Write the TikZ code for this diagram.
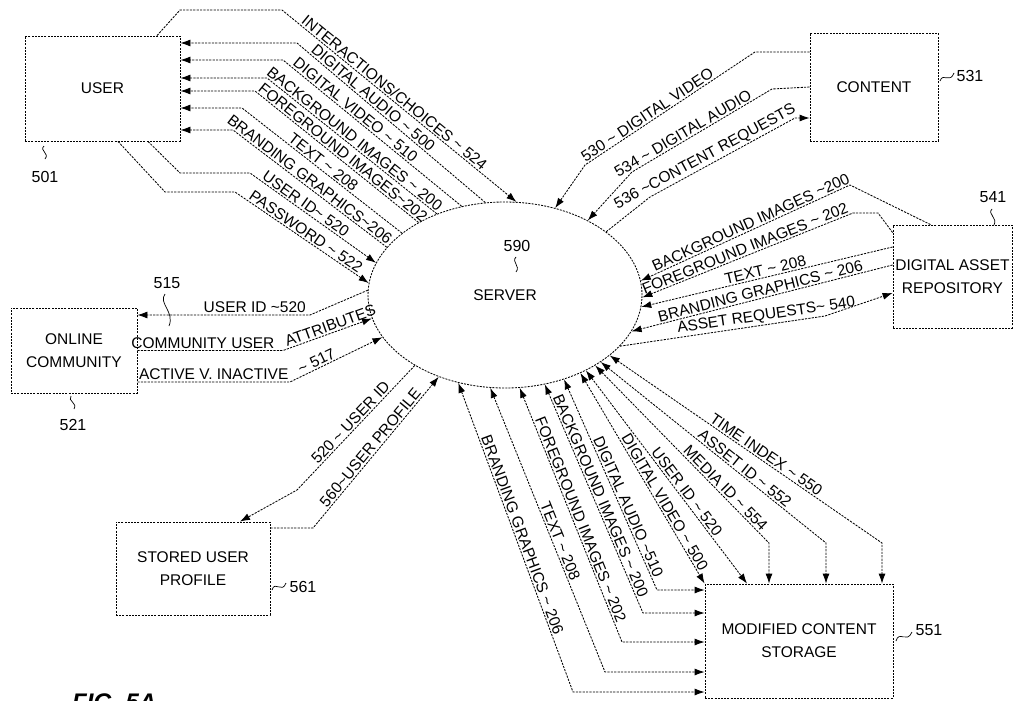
\documentclass[tikz,border=0pt]{standalone}
\usepackage{fontspec}
\setmainfont{Liberation Sans}
\usetikzlibrary{arrows.meta,shapes.geometric}
\newcommand{\sq}{\textasciitilde}

\begin{document}
\begin{tikzpicture}[x=1pt,y=-1pt,>={Latex[length=10pt,width=7pt]},
  box/.style={draw,line width=0.85pt,dash pattern=on 2pt off 1.2pt,align=center,inner sep=0pt,font=\fontsize{15.5}{23}\selectfont},
  flow/.style={line width=0.85pt,dash pattern=on 2.2pt off 1.2pt},
  lab/.style={sloped,above,inner sep=1.5pt,font=\fontsize{15.5}{18}\selectfont},
  refnum/.style={inner sep=0pt,font=\fontsize{16}{18}\selectfont},
  leader/.style={line width=0.7pt}]
  \useasboundingbox (0,0) rectangle (1015,701);

  % boxes and server
  \node[box,minimum width=155pt,minimum height=105pt] (user) at (102.5,88.5) {USER};
  \node[box,minimum width=128pt,minimum height=108pt] (content) at (874,87) {CONTENT};
  \node[box,minimum width=119pt,minimum height=103pt] (dar) at (952.5,276.5) {DIGITAL ASSET\\REPOSITORY};
  \node[box,minimum width=126pt,minimum height=85pt] (oc) at (74,350.5) {ONLINE\\COMMUNITY};
  \node[box,minimum width=154pt,minimum height=93pt] (sup) at (193,568.5) {STORED USER\\PROFILE};
  \node[box,minimum width=188pt,minimum height=114pt] (mcs) at (799,641) {MODIFIED CONTENT\\STORAGE};
  \node[box,ellipse,minimum width=274pt,minimum height=186pt] (server) at (505,295) {SERVER};

  % reference numbers
  \node[refnum] (n501) at (45,177) {501};
  \draw[leader] (44,146) .. controls (39,151) and (50,153) .. (45,159);
  \node[refnum] (n590) at (517,246) {590};
  \draw[leader] (516,257) .. controls (511,262) and (521,266) .. (516,272);
  \node[refnum] (n531) at (970,76) {531};
  \draw[leader] (940,81) .. controls (943,72) and (950,84) .. (954,73);
  \node[refnum] (n541) at (993,197) {541};
  \draw[leader] (992,209) .. controls (987,214) and (998,218) .. (994,225);
  \node[refnum] (n515) at (167,283) {515};
  \draw[leader] (165,294) .. controls (158,303) and (175,312) .. (169,326);
  \node[refnum] (n521) at (73,425) {521};
  \draw[leader] (71,396) .. controls (67,401) and (78,403) .. (74,409);
  \node[refnum] (n561) at (303,587) {561};
  \draw[leader] (272,590) .. controls (275,580) and (282,594) .. (286,583);
  \node[refnum] (n551) at (929,630) {551};
  \draw[leader] (896,641) .. controls (899,630) and (907,644) .. (912,632);

  % user <-> server
  \draw[flow,->] ([xshift=54.5pt]user.north) -- (180,10) -- (282,10) -- node[lab,pos=0.46]{INTERACTIONS/CHOICES \sq{} 524} (server.83);
  \draw[flow,->] (server.102) -- node[lab,pos=0.62]{DIGITAL AUDIO \sq{} 500} (297,43) -- ([yshift=45.5pt]user.east);
  \draw[flow,->] (server.116) -- node[lab,pos=0.62]{DIGITAL VIDEO \sq{} 510} (283,60) -- ([yshift=28.5pt]user.east);
  \draw[flow,->] (server.130) -- node[lab,pos=0.51]{BACKGROUND IMAGES \sq{} 200} (267,78) -- ([yshift=10.5pt]user.east);
  \draw[flow,->] (server.140) -- node[lab,pos=0.49]{FOREGROUND IMAGES\sq{}202} (255,91) -- ([yshift=-2.5pt]user.east);
  \draw[flow,->] (server.149) -- node[lab,pos=0.52]{TEXT \sq{} 208} (242,108) -- ([yshift=-19.5pt]user.east);
  \draw[flow,->] (server.158) -- node[lab,pos=0.53]{BRANDING GRAPHICS\sq{}206} (233,130) -- ([yshift=-41.5pt]user.east);
  \draw[flow,->] ([xshift=45.5pt]user.south) -- (180,173) -- (250,173) -- node[lab,pos=0.41]{USER ID\sq{} 520} (server.166);
  \draw[flow,->] ([xshift=15.5pt]user.south) -- (165,192) -- (235,192) -- node[lab,pos=0.5]{PASSWORD \sq{} 522} (server.175);

  % content <-> server
  \draw[flow,->] ([yshift=35pt]content.west) -- (755,52) -- node[lab,pos=0.61]{530 \sq{} DIGITAL VIDEO} (585,165) -- (server.60);
  \draw[flow,->] (content.west) -- (772,89) -- node[lab,pos=0.61]{534 \sq{} DIGITAL AUDIO} (632,172) -- (server.42);
  \draw[flow,->] (server.32) -- (650,197) -- node[lab,pos=0.41]{536 \sq{}CONTENT REQUESTS} (795,118) -- ([yshift=-31pt]content.west);

  % digital asset repository <-> server
  \draw[flow,->] ([xshift=-22pt]dar.north) -- (850,185) -- node[lab,pos=0.46]{BACKGROUND IMAGES \sq{}200} (server.6);
  \draw[flow,->] ([yshift=44pt]dar.west) -- (878,213) -- (853,213) -- node[lab,pos=0.5]{FOREGROUND IMAGES \sq{} 202} (server.-1);
  \draw[flow,->] ([yshift=29.5pt]dar.west) -- node[lab]{TEXT \sq{} 208} (server.-5);
  \draw[flow,->] ([yshift=11.5pt]dar.west) -- node[lab]{BRANDING GRAPHICS \sq{} 206} (server.-16);
  \draw[flow,->] (server.-24) -- node[lab,pos=0.72]{ASSET REQUESTS\sq{} 540} (825,316) -- ([yshift=-16.5pt]dar.west);

  % online community <-> server
  \draw[flow,->] (server.178) -- (310,315) -- node[lab,pos=0.32]{USER ID \sq{}520} ([yshift=35.5pt]oc.east);
  \draw[flow,->] (oc.east) -- node[lab,pos=0.45]{COMMUNITY USER} (283,350.5) -- node[lab,pos=0.56]{ATTRIBUTES} (server.-170);
  \draw[flow,->] ([yshift=-31.5pt]oc.east) -- node[lab]{ACTIVE V. INACTIVE} (290,382) -- node[lab,pos=0.32]{\sq{} 517} (server.-161);

  % stored user profile <-> server
  \draw[flow,->] (server.-142) -- node[lab]{520 \sq{} USER ID} (297,490) -- ([xshift=47pt]sup.north);
  \draw[flow,->] ([yshift=40.5pt]sup.east) -- (313,528) -- node[lab]{560\sq{}USER PROFILE} (server.-129);

  % modified content storage <-> server
  \draw[flow,<->] (server.-118) -- node[lab]{BRANDING GRAPHICS \sq{} 206} (573,692) -- ([yshift=-51pt]mcs.west);
  \draw[flow,<->] (server.-99) -- node[lab,pos=0.55]{TEXT \sq{} 208} (605,672) -- ([yshift=-31pt]mcs.west);
  \draw[flow,<->] (server.-81) -- node[lab,pos=0.53]{FOREGROUND IMAGES \sq{} 202} (622,642) -- ([yshift=-1pt]mcs.west);
  \draw[flow,<->] (server.-66) -- node[lab]{BACKGROUND IMAGES \sq{} 200} (643,613) -- ([yshift=28pt]mcs.west);
  \draw[flow,<->] (server.-55) -- node[lab,pos=0.62]{DIGITAL AUDIO \sq{}510} (657,590) -- ([yshift=51pt]mcs.west);
  \draw[flow,<->] (server.-46) -- node[lab,pos=0.63]{DIGITAL VIDEO \sq{} 500} (mcs.north west);
  \draw[flow,<->] (server.-43) -- node[lab,pos=0.59]{USER ID \sq{} 520} ([xshift=-52pt]mcs.north);
  \draw[flow,<->] (server.-38) -- node[lab,pos=0.72]{MEDIA ID \sq{} 554} (769,543) -- ([xshift=-30pt]mcs.north);
  \draw[flow,<->] (server.-35) -- node[lab,pos=0.62]{ASSET ID \sq{} 552} (826,543) -- ([xshift=27pt]mcs.north);
  \draw[flow,<->] (server.-30) -- node[lab,pos=0.56]{TIME INDEX \sq{} 550} (882,543) -- ([xshift=83pt]mcs.north);

  % figure caption, cut by the lower edge
  \node[anchor=north west,inner sep=0pt,font=\fontsize{24}{26}\selectfont\bfseries\itshape] (fig) at (72,694) {FIG. 5A};
\end{tikzpicture}
\end{document}
